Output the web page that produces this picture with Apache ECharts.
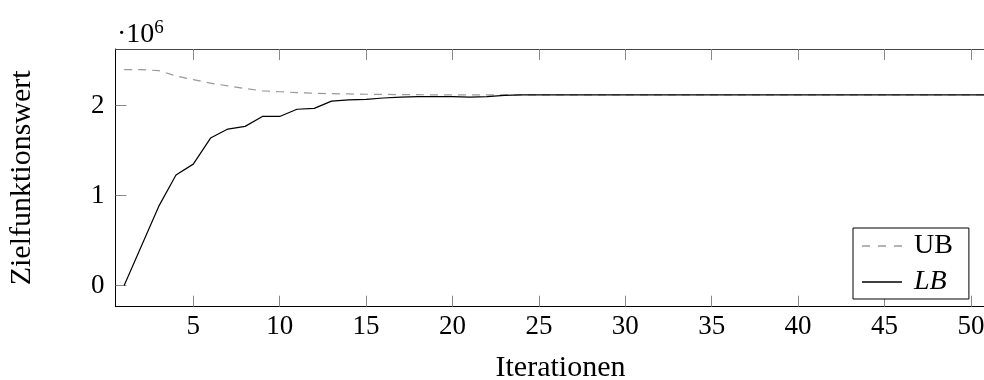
<!DOCTYPE html>
<html>
<head>
<meta charset="utf-8">
<script src="https://cdn.jsdelivr.net/npm/echarts@6/dist/echarts.min.js"></script>
<style>
html,body{margin:0;padding:0;background:#fff;}
#c{width:984px;height:380px;}
</style>
</head>
<body>
<div id="c"></div>
<script>
// Iterations (x values)
const iterations = [1,2,3,4,5,6,7,8,9,10,11,12,13,14,15,16,17,18,19,20,21,22,23,24,25,26,27,28,29,30,31,32,33,34,35,36,37,38,39,40,41,42,43,44,45,46,47,48,49,50,51,52];
// Upper bound (x 10^6)
const ub = [2.40,2.40,2.39,2.33,2.29,2.25,2.22,2.19,2.165,2.155,2.145,2.138,2.133,2.13,2.127,2.125,2.123,2.122,2.12,2.12,2.12,2.12,2.12,2.12,2.12,2.12,2.12,2.12,2.12,2.12,2.12,2.12,2.12,2.12,2.12,2.12,2.12,2.12,2.12,2.12,2.12,2.12,2.12,2.12,2.12,2.12,2.12,2.12,2.12,2.12,2.12,2.12];
// Lower bound (x 10^6)
const lb = [0,0.44,0.88,1.23,1.35,1.64,1.74,1.77,1.88,1.88,1.96,1.97,2.05,2.065,2.07,2.085,2.095,2.10,2.10,2.10,2.095,2.10,2.115,2.12,2.12,2.12,2.12,2.12,2.12,2.12,2.12,2.12,2.12,2.12,2.12,2.12,2.12,2.12,2.12,2.12,2.12,2.12,2.12,2.12,2.12,2.12,2.12,2.12,2.12,2.12,2.12,2.12];
const xTicks = [5,10,15,20,25,30,35,40,45,50];
const yTicks = [0,1,2];
const seriesNames = ['UB','LB'];

const FONT = '"Liberation Serif", "DejaVu Serif", serif';
const chart = echarts.init(document.getElementById('c'));

const gridL = 115.5, gridT = 49, gridW = 890, gridH = 257.7;

const option = {
  backgroundColor: '#fff',
  animation: false,
  grid: { left: gridL, top: gridT, width: gridW, height: gridH, containLabel: false, outerBoundsMode: 'none' },
  xAxis: [{
    type: 'value', min: 0.5, max: 52, position: 'bottom',
    name: 'Iterationen', nameLocation: 'middle', nameGap: 46,
    nameTextStyle: { fontFamily: FONT, fontSize: 30, color: '#000' },
    axisLine: { show: true, onZero: false, lineStyle: { color: '#000', width: 1 } },
    axisTick: { show: true, inside: true, length: 11, customValues: xTicks, lineStyle: { color: '#888', width: 1 } },
    axisLabel: { show: true, customValues: xTicks, margin: 7, fontFamily: FONT, fontSize: 27, color: '#000' },
    splitLine: { show: false }
  }, {
    type: 'value', min: 0.5, max: 52, position: 'top',
    axisLine: { show: true, onZero: false, lineStyle: { color: '#444', width: 1 } },
    axisTick: { show: true, inside: true, length: 11, customValues: xTicks, lineStyle: { color: '#888', width: 1 } },
    axisLabel: { show: false },
    splitLine: { show: false }
  }],
  yAxis: [{
    type: 'value', min: -0.235, max: 2.63, position: 'left',
    name: 'Zielfunktionswert', nameLocation: 'middle', nameGap: 78, nameRotate: 90,
    nameTextStyle: { fontFamily: FONT, fontSize: 30, color: '#000' },
    axisLine: { show: true, onZero: false, lineStyle: { color: '#000', width: 1 } },
    axisTick: { show: true, inside: true, length: 11, customValues: yTicks, lineStyle: { color: '#888', width: 1 } },
    axisLabel: { show: true, customValues: yTicks, margin: 11, fontFamily: FONT, fontSize: 27, color: '#000' },
    splitLine: { show: false }
  }],
  legend: {
    orient: 'vertical', left: 853, top: 228,
    data: [
      { name: seriesNames[0], icon: 'path://M0,0h8v1.5h-8z M16,0h8v1.5h-8z M32,0h8v1.5h-8z', itemStyle: { color: '#999' } },
      { name: seriesNames[1], icon: 'path://M0,0h40v1.5h-40z', itemStyle: { color: '#000' } }
    ],
    itemWidth: 40, itemHeight: 1.5, itemGap: 8,
    padding: [4, 16, 3, 9],
    borderColor: '#000', borderWidth: 1, borderRadius: 0,
    backgroundColor: '#fff',
    textStyle: { fontFamily: FONT, fontSize: 28, color: '#000', padding: [0,0,0,7], lineHeight: 28 },
    formatter: function (n) { return n === 'LB' ? '{i|LB}' : n; },
    selectedMode: false
  },
  series: [{
    name: seriesNames[0], type: 'line', xAxisIndex: 0, yAxisIndex: 0,
    data: iterations.map((x, i) => [x, ub[i]]),
    showSymbol: false, symbol: 'none',
    lineStyle: { color: '#999', width: 1.2, type: [8, 6] },
    itemStyle: { color: '#999' },
    z: 2
  }, {
    name: seriesNames[1], type: 'line', xAxisIndex: 0, yAxisIndex: 0,
    data: iterations.map((x, i) => [x, lb[i]]),
    showSymbol: false, symbol: 'none',
    lineStyle: { color: '#000', width: 1.2 },
    itemStyle: { color: '#000' },
    z: 3
  }],
  graphic: [{
    type: 'text', left: 117, top: 19, z: 10,
    style: {
      text: '{a|·10}{b|6}',
      rich: {
        a: { fontFamily: FONT, fontSize: 28, color: '#000', verticalAlign: 'bottom', lineHeight: 30 },
        b: { fontFamily: FONT, fontSize: 19, color: '#000', verticalAlign: 'top', lineHeight: 30 }
      }
    }
  }]
};
option.legend.textStyle.rich = { i: { fontFamily: FONT, fontSize: 28, fontStyle: 'italic', color: '#000' } };
chart.setOption(option);
</script>
</body>
</html>
